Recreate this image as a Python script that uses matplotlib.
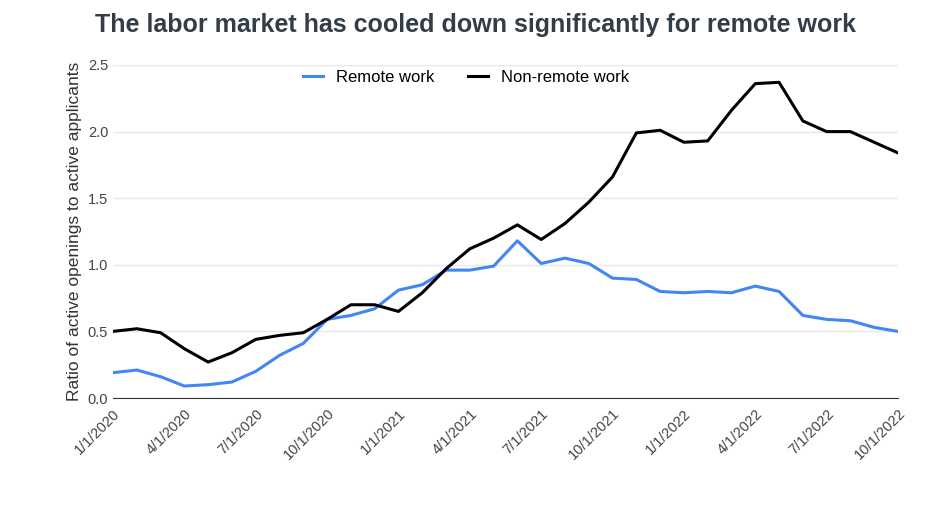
import pandas as pd
import matplotlib.pyplot as plt

plt.rcParams['font.family'] = ['Liberation Sans', 'DejaVu Sans']

dates = pd.date_range('2020-01-01', '2022-10-01', freq='MS')
remote = [0.19, 0.21, 0.16, 0.09, 0.10, 0.12, 0.20, 0.32, 0.41, 0.59, 0.62, 0.67,
          0.81, 0.85, 0.96, 0.96, 0.99, 1.18, 1.01, 1.05, 1.01, 0.90, 0.89, 0.80,
          0.79, 0.80, 0.79, 0.84, 0.80, 0.62, 0.59, 0.58, 0.53, 0.50]
non_remote = [0.50, 0.52, 0.49, 0.37, 0.27, 0.34, 0.44, 0.47, 0.49, 0.59, 0.70, 0.70,
              0.65, 0.79, 0.97, 1.12, 1.20, 1.30, 1.19, 1.31, 1.47, 1.66, 1.99, 2.01,
              1.92, 1.93, 2.16, 2.36, 2.37, 2.08, 2.00, 2.00, 1.92, 1.84]
tick_labels = [f"{d.month}/1/{d.year}" for d in dates[::3]]

fig = plt.figure(figsize=(9.36, 5.08), dpi=100)
ax = fig.add_axes([113/936, 110/508, 785/936, 333/508])
x = list(range(len(dates)))
ax.plot(x, remote, color='#4285f4', lw=2.2, label='Remote work')
ax.plot(x, non_remote, color='black', lw=2.2, label='Non-remote work')

ax.set_xlim(0, len(dates) - 1)
ax.set_ylim(0, 2.5)
ax.set_yticks([0, 0.5, 1.0, 1.5, 2.0, 2.5])
ax.set_yticklabels(['0.0', '0.5', '1.0', '1.5', '2.0', '2.5'])
ax.set_xticks(x[::3])
ax.set_xticklabels(tick_labels, rotation=45, ha='right', rotation_mode='anchor')
ax.tick_params(labelsize=10.5, colors='#444444', length=0)
ax.tick_params(axis='x', pad=6)
ax.grid(axis='y', color='#e8e8e8', lw=1)
for s in ['top', 'right', 'left']:
    ax.spines[s].set_visible(False)
ax.spines['bottom'].set_color('#333333')
ax.set_ylabel('Ratio of active openings to active applicants', fontsize=12.5, color='#333333')
ax.legend(loc='upper center', bbox_to_anchor=(0.45, 1.03), ncol=2, frameon=False,
          fontsize=12, handlelength=1.2, columnspacing=2)
fig.suptitle('The labor market has cooled down significantly for remote work',
             x=0.508, y=0.975, fontsize=18, fontweight='bold', color='#333d47')
fig.savefig('out.png')
